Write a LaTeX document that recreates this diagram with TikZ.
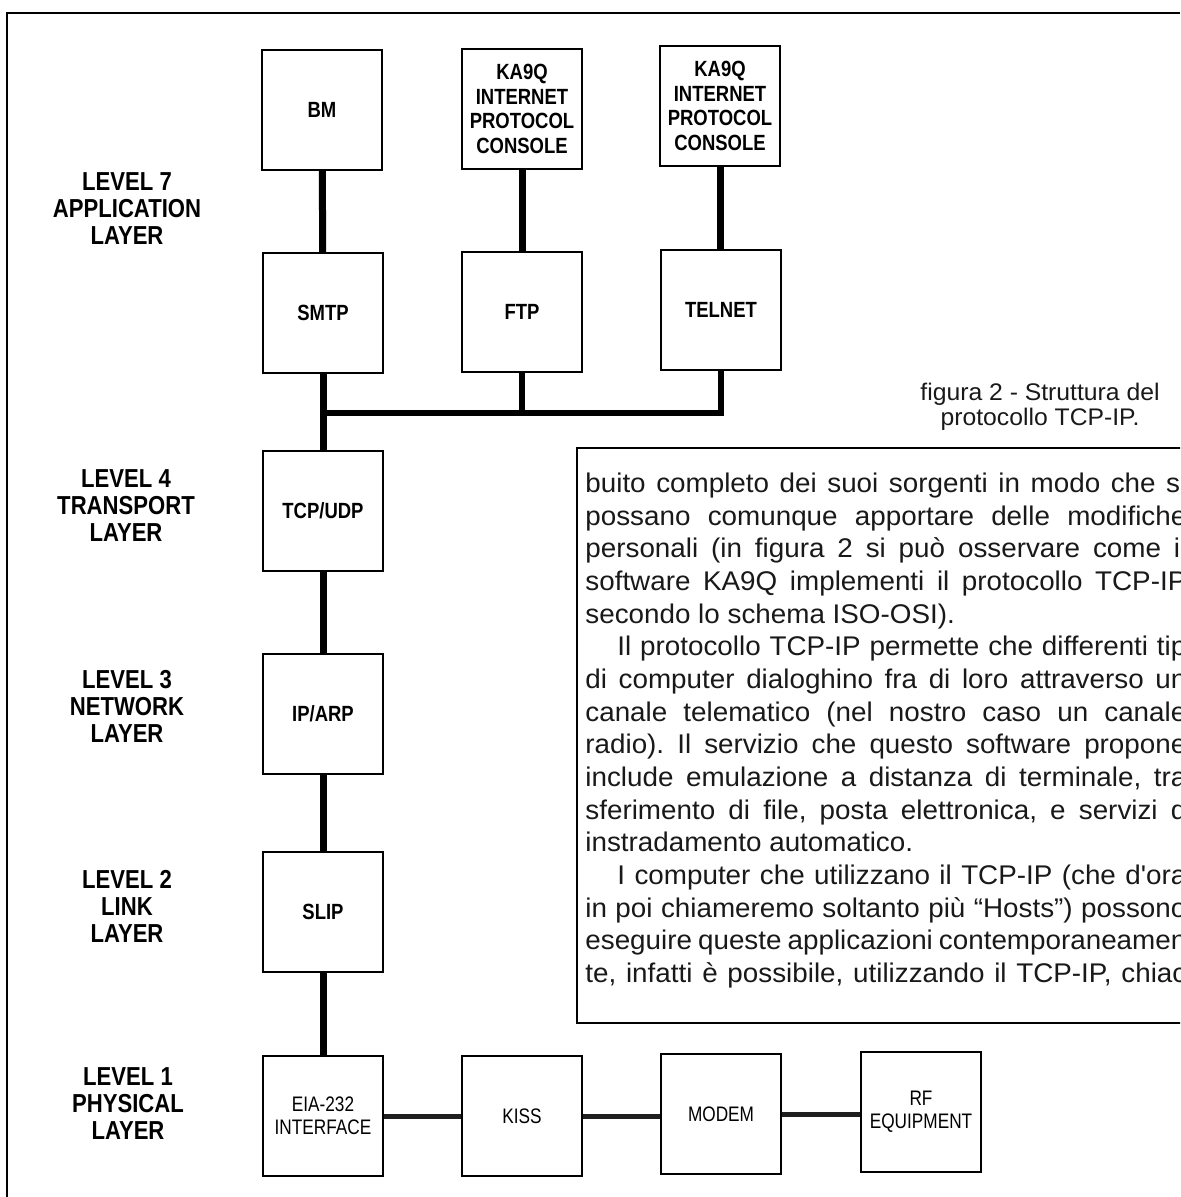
\documentclass[tikz,border=0pt]{standalone}
\usepackage{fontspec}
\setmainfont{Liberation Sans}
\frenchspacing
\newfontfamily\lvfont[FakeStretch=0.85]{Liberation Sans}
\newfontfamily\bxfont[FakeStretch=0.84]{Liberation Sans}
\newfontfamily\phfont[FakeStretch=0.82]{Liberation Sans}
\newfontfamily\bodyfont[FakeStretch=1.03]{Liberation Sans}
\newcommand{\jline}[3]{\node[txt] (#1) at (585,#2) {\makebox[300.5pt][s]{#3}};}
\newcommand{\fline}[3]{\node[txt] (#1) at (585,#2) {#3};}
\begin{document}
\begin{tikzpicture}[x=0.5pt,y=-0.5pt,
  box/.style={draw, line width=1pt, minimum width=60pt, minimum height=60pt, inner sep=0pt, align=center,
    font=\bxfont\bfseries\fontsize{11}{12.25}\selectfont},
  pbox/.style={box, font=\phfont\fontsize{10.5}{11.5}\selectfont},
  lvl/.style={align=center, inner sep=0pt, font=\lvfont\bfseries\fontsize{13}{13.5}\selectfont},
  conn/.style={line width=3.5pt},
  busline/.style={line width=3pt},
  hconn/.style={line width=2.5pt, black!88},
  txt/.style={anchor=base west, inner sep=0pt, text=black!90, font=\bodyfont\frenchspacing\fontsize{13.5}{16}\selectfont}
]
\useasboundingbox (0,0) rectangle (1180,1197);
\fill[white] (0,0) rectangle (1180,1197);

% page frame
\draw[line width=1.3pt] (7,1197) -- (7,13) -- (1180,13);

% level labels
\node[lvl] (l7) at (127,209) {LEVEL 7\\APPLICATION\\LAYER};
\node[lvl] (l4) at (126,506) {LEVEL 4\\TRANSPORT\\LAYER};
\node[lvl] (l3) at (127,706) {LEVEL 3\\NETWORK\\LAYER};
\node[lvl] (l2) at (127,906) {LEVEL 2\\LINK\\LAYER};
\node[lvl] (l1) at (128,1104) {LEVEL 1\\PHYSICAL\\LAYER};

% boxes
\node[box] (bm) at (322,110) {BM};
\node[box] (ka1) at (522,109) {KA9Q\\INTERNET\\PROTOCOL\\CONSOLE};
\node[box] (ka2) at (720,106) {KA9Q\\INTERNET\\PROTOCOL\\CONSOLE};
\node[box] (smtp) at (323,313) {SMTP};
\node[box] (ftp) at (522,312) {FTP};
\node[box] (telnet) at (721,310) {TELNET};
\node[box] (tcp) at (323,511) {TCP/UDP};
\node[box] (ip) at (323,714) {IP/ARP};
\node[box] (slip) at (323,912) {SLIP};
\node[pbox] (eia) at (323,1116) {EIA-232\\INTERFACE};
\node[pbox] (kiss) at (522,1116) {KISS};
\node[pbox] (modem) at (721,1114) {MODEM};
\node[pbox] (rf) at (921,1112) {RF\\EQUIPMENT};

% connectors
\coordinate (busL) at (323,413);
\draw[conn] (bm) -- (smtp);
\draw[conn] (ka1.south) -- (ka1.south |- ftp.north);
\draw[conn] (ka2.south) -- (ka2.south |- telnet.north);
\draw[conn] (smtp) -- (tcp);
\draw[busline] (telnet.south) |- (busL);
\draw[busline] (ftp.south) -- (ftp.south |- busL);
\draw[conn] (tcp) -- (ip);
\draw[conn] (ip) -- (slip);
\draw[conn] (slip) -- (eia);
\draw[hconn] (eia.east) -- (eia.east -| kiss.west);
\draw[hconn] (kiss.east) -- (kiss.east -| modem.west);
\draw[hconn] (modem.east) -- (modem.east -| rf.west);

% caption
\node[align=center, inner sep=0pt, text=black!90, font=\bodyfont\fontsize{12}{12.5}\selectfont] (cap) at (1040,407) {figura 2 - Struttura del\\protocollo TCP-IP.};

% inset text block
\begin{scope}
\clip (0,0) rectangle (1180,1197);
\draw[line width=1.1pt] (1200,448) -- (577,448) -- (577,1023) -- (1200,1023);
\jline{t1}{492}{buito completo dei suoi sorgenti in modo che si}
\jline{t2}{525}{possano comunque apportare delle modifiche}
\jline{t3}{557}{personali (in figura 2 si può osservare come il}
\jline{t4}{590}{software KA9Q implementi il protocollo TCP-IP}
\fline{t5}{623}{secondo lo schema ISO-OSI).}
\jline{t6}{655}{\hspace*{16pt}Il protocollo TCP-IP permette che differenti tip}
\jline{t7}{688}{di computer dialoghino fra di loro attraverso un}
\jline{t8}{721}{canale telematico (nel nostro caso un canale}
\jline{t9}{753}{radio). Il servizio che questo software propone}
\jline{t10}{786}{include emulazione a distanza di terminale, tra}
\jline{t11}{819}{sferimento di file, posta elettronica, e servizi d}
\fline{t12}{851}{instradamento automatico.}
\jline{t13}{884}{\hspace*{16pt}I computer che utilizzano il TCP-IP (che d'ora}
\jline{t14}{917}{in poi chiameremo soltanto più “Hosts”) possono}
\jline{t15}{949}{eseguire queste applicazioni contemporaneamen}
\jline{t16}{982}{te, infatti è possibile, utilizzando il TCP-IP, chiac}
\end{scope}
\end{tikzpicture}
\end{document}
